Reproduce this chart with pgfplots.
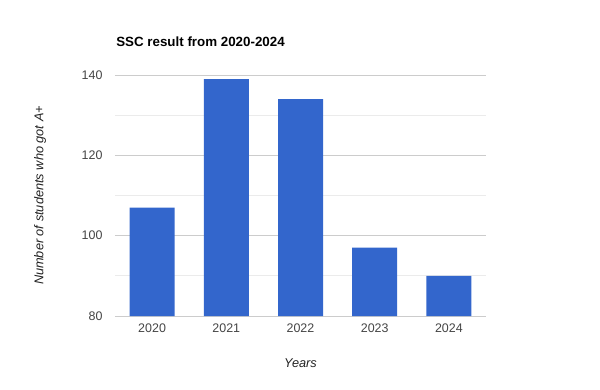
\documentclass[border=0pt]{standalone}
\usepackage{fontspec}
\setmainfont{Liberation Sans}
\usepackage{pgfplots}
\pgfplotsset{compat=1.18}
\definecolor{barblue}{HTML}{3366CC}
\definecolor{majgrid}{HTML}{CCCCCC}
\definecolor{mingrid}{HTML}{EBEBEB}
\definecolor{ticktext}{HTML}{444444}
\definecolor{labtext}{HTML}{222222}
\begin{document}
\begin{tikzpicture}
\path[use as bounding box] (0,0) rectangle (600bp,-390bp);
\begin{axis}[
  at={(115bp,-316bp)}, anchor=south west,
  scale only axis, width=371bp, height=241bp,
  ybar, bar width=45bp,
  xmin=-0.5, xmax=4.5, ymin=80, ymax=140,
  enlargelimits=false,
  xtick={0,1,2,3,4},
  xticklabels={2020,2021,2022,2023,2024},
  ytick={80,100,120,140},
  minor ytick={90,110,130},
  ymajorgrids, yminorgrids,
  major grid style={draw=majgrid, line width=0.8bp},
  minor grid style={draw=mingrid, line width=0.8bp},
  axis line style={draw=none},
  major tick length=0, minor tick length=0,
  /pgf/number format/assume math mode=true,
  /pgf/number format/1000 sep={},
  tick label style={font=\fontsize{12.5}{14}\selectfont, text=ticktext},
  yticklabel style={xshift=-9bp},
  xticklabel style={yshift=-4bp},
  title={SSC result from 2020-2024},
  title style={at={(axis description cs:0.003,1.095)}, anchor=base west, inner xsep=0pt, font=\bfseries\fontsize{13.4}{15}\selectfont, text=black},
  xlabel={Years},
  xlabel style={at={(axis description cs:0.5,-0.194)}, anchor=center, font=\itshape\fontsize{12.8}{14}\selectfont, text=labtext},
  ylabel={Number of students who got A+},
  ylabel style={at={(axis description cs:-0.202,0.5)}, anchor=center, rotate=0, font=\itshape\fontsize{12.8}{14}\selectfont, text=labtext},
]
\addplot[fill=barblue, draw=none] coordinates {(0,107) (1,139) (2,134) (3,97) (4,90)};
\end{axis}
\end{tikzpicture}
\end{document}
